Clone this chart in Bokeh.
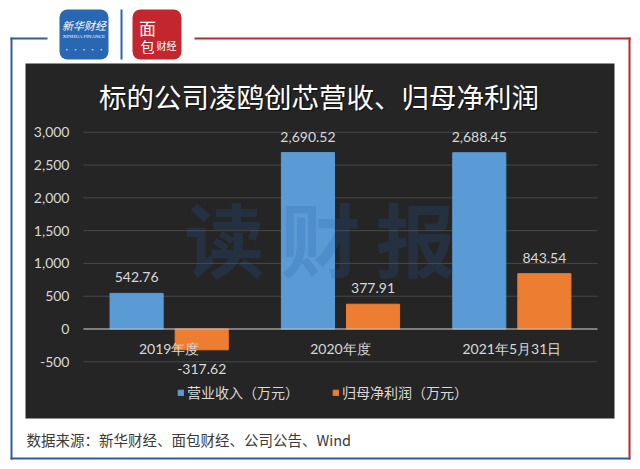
from bokeh.plotting import figure
from bokeh.models import (ColumnDataSource, Range1d, BoxAnnotation, Label, Legend, LegendItem)
from bokeh.core.properties import value
from bokeh.embed import file_html
from bokeh.resources import INLINE

# ---------------- data ----------------
categories = ["2019年度", "2020年度", "2021年5月31日"]
revenue = [542.76, 2690.52, 2688.45]
net_profit = [-317.62, 377.91, 843.54]
y_ticks = [-500, 0, 500, 1000, 1500, 2000, 2500, 3000]
y_tick_labels = [f"{t:,}" for t in y_ticks]
series_names = ["营业收入（万元）", "归母净利润（万元）"]
title_text = "标的公司凌鸥创芯营收、归母净利润"
source_text = "数据来源：新华财经、面包财经、公司公告、Wind"
watermark_chars = ["读", "财", "报"]

# ---------------- layout constants ----------------
W, H = 640, 469
BLUE, ORANGE = "#5b9bd5", "#ed7d31"
LIGHT = "#d9d9d9"
CJK = "Noto Sans CJK SC"
NUM = "Lato"
OFF = 0.19       # dodge of each bar from the category centre
BAR_W = 0.31     # bar width in category units

# frame covers the whole canvas; ranges chosen so the plotting region
# (x: 83..597 px, value 0 at y=328.5 px, 500 units = 32.8 px) lands as in the reference
p = figure(width=W, height=H,
           x_range=Range1d(-0.4844, 3.2510),
           y_range=Range1d(-2143, 5010),
           output_backend="svg", toolbar_location=None,
           x_axis_location=None, y_axis_location=None, min_border=0)
p.title.visible = False
p.outline_line_color = None
p.background_fill_color = "white"
p.border_fill_color = "white"
p.grid.visible = False


def cbox(l, r, t, b, color, alpha=1.0, radius=0, level="image"):
    """Box in canvas pixel coordinates (top-left origin)."""
    box = BoxAnnotation(left=l, right=r, top=H - t, bottom=H - b,
                        left_units="screen", right_units="screen",
                        top_units="screen", bottom_units="screen",
                        fill_color=color, fill_alpha=alpha, line_color=None,
                        border_radius=int(radius), level=level)
    p.add_layout(box)


def clabel(x, y, text, size, color, font=CJK, align="center", baseline="middle",
           style="normal", alpha=1.0):
    lab = Label(x=x, y=H - y, x_units="screen", y_units="screen", text=text,
                text_font=font, text_font_size=f"{size}px", text_color=color,
                text_align=align, text_baseline=baseline, text_font_style=style,
                text_alpha=alpha)
    p.add_layout(lab)


# ---------------- dark chart panel with soft radial gradient ----------------
L0, R0, T0, B0 = 25, 614, 63, 418
cbox(L0, R0, T0, B0, "#252525")
cx, cy = 318, 215
n = 40
for i in range(1, n + 1):
    f = i / (n + 1)
    hw, hh = 360 * (1 - f), 230 * (1 - f)
    l, r = max(L0, cx - hw), min(R0, cx + hw)
    t, b = max(T0, cy - hh), min(B0, cy + hh)
    rad = min(r - l, b - t) / 2 * 0.9
    cbox(l, r, t, b, "white", 0.0055, rad)

# ---------------- frame lines ----------------
LB, LR = "#2f5d9e", "#b8282e"
cbox(10, 12, 37, 459, LB)          # left
cbox(10, 47, 37, 39, LB)           # top blue piece
cbox(194, 630, 37, 39, LR)         # top red piece
cbox(628, 630, 37, 459, LR)        # right
cbox(10, 630, 457, 459, LB)        # bottom

# ---------------- logos ----------------
cbox(59, 108, 9, 59, "#2a67b2", 1.0, 8)
clabel(83.5, 24, "新华财经", 11, "white", style="italic")
clabel(83.5, 36, "XINHUA FINANCE", 5, "white", font="Liberation Serif")
clabel(83.5, 48, "• · • · •", 7, "#cfe0ff")
cbox(120, 122, 9, 59, "#2a67b2")
cbox(132, 181, 9, 59, "#c3262c", 1.0, 8)
clabel(147, 27, "面", 17, "white")
clabel(147, 45, "包", 14, "white")
clabel(166, 45, "财经", 10, "white")

# ---------------- title ----------------
clabel(320, 96.5, title_text, 27.5, "black", alpha=0.55)
clabel(318.5, 95, title_text, 27.5, "white")

# ---------------- value axis (grid + labels) ----------------
n_cat = len(categories)
tick_src = ColumnDataSource(dict(y=y_ticks, lbl=y_tick_labels,
                                 x0=[0] * len(y_ticks), x1=[n_cat] * len(y_ticks)))
p.segment(x0="x0", x1="x1", y0="y", y1="y", line_color=LIGHT, line_alpha=0.2,
          line_width=1, source=tick_src)
p.text(x="x0", y="y", text="lbl", x_offset=-14, text_align="right", text_baseline="middle",
       text_font=value(NUM), text_font_size="14px", text_color=LIGHT, source=tick_src)

# ---------------- bars ----------------
pos = [i + 0.5 for i in range(n_cat)]
src = ColumnDataSource(dict(
    cat=categories,
    pos=pos,
    pos_rev=[x - OFF for x in pos],
    pos_np=[x + OFF for x in pos],
    rev=revenue,
    npf=net_profit,
    rev_lbl=[f"{v:,.2f}" for v in revenue],
    np_lbl=[f"{v:,.2f}" for v in net_profit],
    rev_off=[-16 if v >= 0 else 19 for v in revenue],
    np_off=[-16 if v >= 0 else 19 for v in net_profit],
    zero=[0] * n_cat,
))

r1 = p.vbar(x="pos_rev", top="rev", bottom=0, width=BAR_W,
            fill_color=BLUE, line_color=BLUE, source=src)
r2 = p.vbar(x="pos_np", top="npf", bottom=0, width=BAR_W,
            fill_color=ORANGE, line_color=ORANGE, source=src)
# zero line above the bars
p.segment(x0=[0], x1=[n_cat], y0=[0], y1=[0], line_color="#c8c8c8", line_width=1.2)

txt = dict(text_align="center", text_baseline="middle", text_font=value(NUM),
           text_font_size="14px", text_color=LIGHT, source=src)
p.text(x="pos_rev", y="rev", text="rev_lbl", y_offset="rev_off", **txt)
p.text(x="pos_np", y="npf", text="np_lbl", y_offset="np_off", **txt)
p.text(x="pos", y="zero", text="cat", y_offset=20, **txt)

# ---------------- watermark ----------------
for ch, x in zip(watermark_chars, [224, 320, 415]):
    clabel(x, 235, ch, 80, "#2a5aa8", style="bold", alpha=0.22)

# ---------------- legend ----------------
legend = Legend(items=[LegendItem(label=series_names[0], renderers=[r1]),
                       LegendItem(label=series_names[1], renderers=[r2])],
                orientation="horizontal", location=(177, H - 402),
                background_fill_alpha=0, border_line_color=None,
                label_text_color=LIGHT, label_text_font=CJK, label_text_font_size="14px",
                glyph_width=7, glyph_height=7, label_standoff=3, spacing=33,
                padding=0, margin=0, label_height=14)
p.add_layout(legend)

# ---------------- source note ----------------
clabel(26, 439, source_text, 14.5, "#3a3a3a", align="left")

open("out.html", "w").write(file_html(p, INLINE))
